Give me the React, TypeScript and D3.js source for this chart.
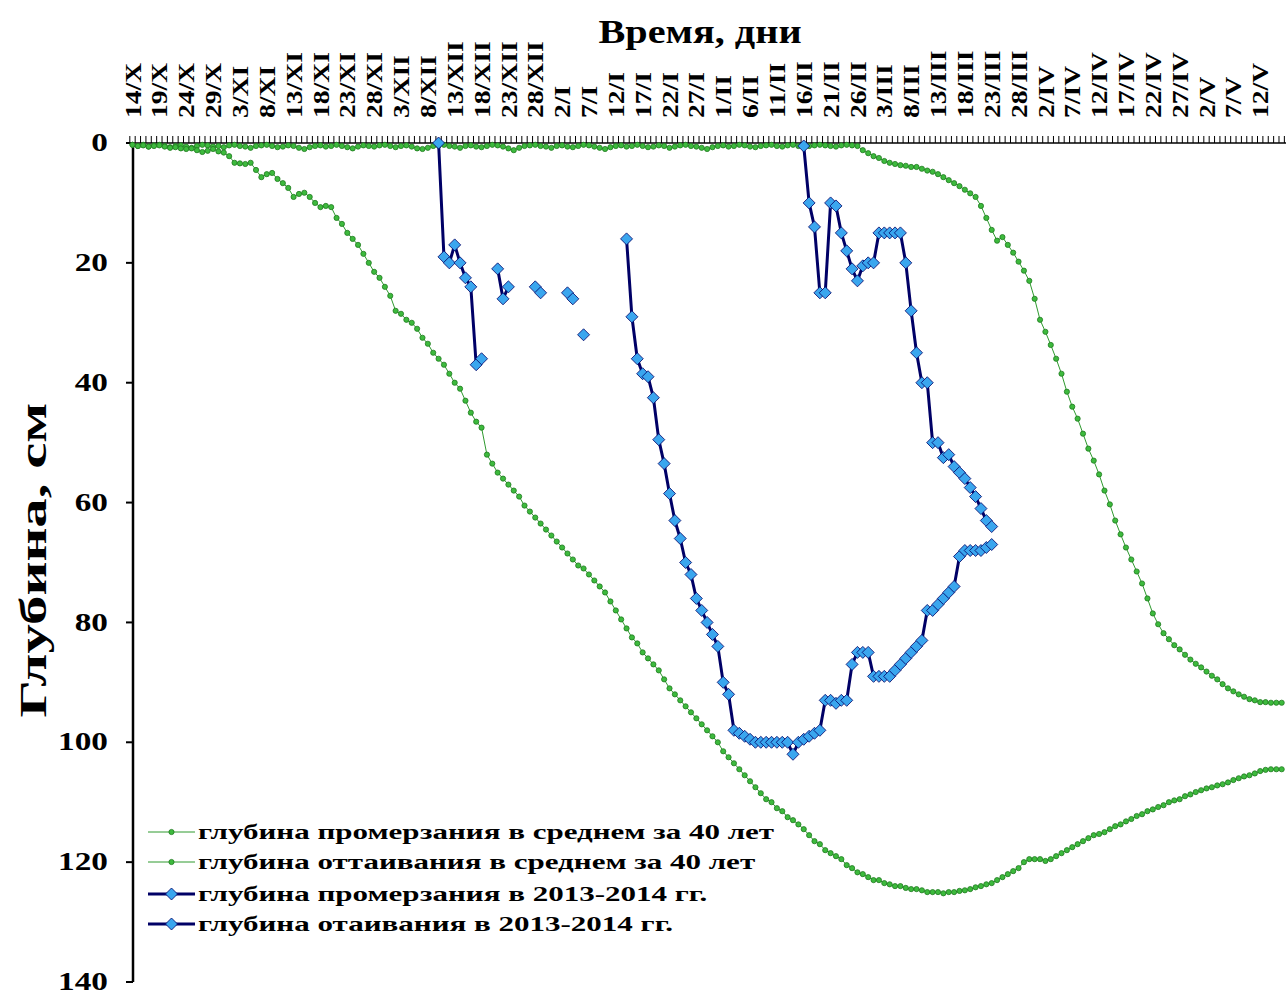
import React from 'react';
import * as d3 from 'd3';

const W = 1286;
const H = 995;

const dateLabels = [
  '14/X', '19/X', '24/X', '29/X', '3/XI', '8/XI', '13/XI', '18/XI', '23/XI', '28/XI',
  '3/XII', '8/XII', '13/XII', '18/XII', '23/XII', '28/XII', '2/I', '7/I', '12/I', '17/I',
  '22/I', '27/I', '1/II', '6/II', '11/II', '16/II', '21/II', '26/II', '3/III', '8/III',
  '13/III', '18/III', '23/III', '28/III', '2/IV', '7/IV', '12/IV', '17/IV', '22/IV', '27/IV',
  '2/V', '7/V', '12/V',
];
const depthTicks = [0, 20, 40, 60, 80, 100, 120, 140];

// day 0 = 14/X, one value per day
const freezeAvg = [
  0.3, 0.5, 0.4, 0.6, 0.5, 0.4, 0.6, 0.8, 0.7, 0.9, 1.0, 0.9, 1.2,
  1.5, 1.3, 1.0, 1.4, 1.6, 2.2, 3.3, 3.4, 3.5, 3.3, 4.5, 5.7,
  5.2, 5.0, 6.0, 6.7, 7.5, 9.0, 8.5, 8.3, 9.0, 10.0, 10.7, 10.5, 10.7,
  12.5, 13.5, 15, 16, 17, 18.5, 20, 21.5, 22.5, 24, 25.5,
  28, 28.5, 29.5, 30, 31, 32.5, 33.5, 35, 36, 37, 38.5, 40,
  41, 43, 45, 46.5, 47.5, 52, 53.5, 55, 56, 57, 58, 59,
  60.5, 61.5, 62.5, 63.5, 64.5, 65.5, 66.5, 67.5, 68.5, 69.5, 70.5,
  71, 72, 73, 74, 75, 76.5, 78, 79.5, 81, 82.5, 83.5,
  85, 86, 87, 88, 89.5, 91, 92, 93, 94, 95, 96, 97, 98, 99, 100,
  101.5, 102.5, 103.5, 104.5, 105.5, 106.5, 107.5, 108.5, 109.5, 110, 111, 111.5, 112.5, 113, 113.7,
  114.5, 115.5, 116.5, 117, 118, 118.5, 119, 119.5, 120.5, 121, 121.7, 122, 122.5, 123, 123,
  123.5, 123.7, 124, 124, 124.3, 124.5, 124.5, 124.7, 125, 125, 125, 125.2, 125, 125, 124.8,
  124.7, 124.5, 124.2, 124, 123.7, 123.5, 123, 122.5, 122, 121.5, 121, 120, 119.5, 119.5, 119.5,
  119.8, 119.5, 119, 118.5, 118, 117.5, 117, 116.5, 116, 115.5, 115.3, 115, 114.5, 114, 113.7,
  113.2, 112.8, 112.3, 112, 111.5, 111.2, 110.8, 110.5, 110, 109.7, 109.5, 109, 108.7, 108.3, 108,
  107.7, 107.5, 107.2, 107, 106.7, 106.3, 106, 105.7, 105.5, 105.2, 104.8, 104.6, 104.5, 104.5, 104.5,
];

const thawAvg = [
  0.3, 0.5, 0.3, 0.6, 0.4, 0.3, 0.5, 0.7, 0.5, 0.4, 0.6, 0.8, 0.5, 0.3, 0.4,
  0.6, 0.5, 0.7, 0.4, 0.3, 0.5, 0.6, 0.8, 0.5, 0.4, 0.3, 0.5, 0.7, 0.6, 0.4,
  0.5, 0.8, 1.0, 0.7, 0.5, 0.4, 0.6, 0.5, 0.3, 0.5, 0.7, 0.9, 0.6, 0.4, 0.5,
  0.6, 0.4, 0.3, 0.5, 0.7, 0.5, 0.4, 0.6, 0.9, 1.0, 0.8, 0.5, 0.4, 0.3, 0.5,
  0.6, 0.8, 0.5, 0.4, 0.6, 0.7, 0.5, 0.3, 0.4, 0.6, 0.9, 1.2, 0.8, 0.5, 0.4,
  0.3, 0.5, 0.6, 0.8, 0.5, 0.4, 0.6, 0.7, 0.5, 0.3, 0.4, 0.6, 0.8, 1.0, 0.7,
  0.5, 0.4, 0.6, 0.5, 0.3, 0.5, 0.7, 0.6, 0.4, 0.5, 0.8, 0.6, 0.4, 0.3, 0.5,
  0.6, 0.8, 1.0, 0.7, 0.5, 0.4, 0.6, 0.5, 0.3, 0.4, 0.6, 0.7, 0.5, 0.4, 0.3,
  0.5, 0.6, 0.4, 0.3, 0.5, 0.7, 0.5, 0.4, 0.3, 0.4, 0.5, 0.6, 0.4, 0.3, 0.4,
  0.5, 1.2, 1.7, 2.2, 2.5, 3.0, 3.3, 3.5, 3.7, 3.8, 4.0, 4.0, 4.3, 4.6, 4.8,
  5.2, 5.7, 6.2, 6.7, 7.2, 7.8, 8.4, 9.0, 10.5, 12.5, 14.5, 16.3, 15.7, 17.0, 18.3,
  19.8, 21.3, 23, 26, 29.5, 31.5, 33.7, 36, 38.5, 41.5, 44, 46, 48.5, 51, 53,
  55.3, 58, 60.3, 63, 65.3, 67.5, 69.5, 71.5, 73.5, 76, 78.5, 80.3, 81.8, 82.8, 83.8,
  84.5, 85.4, 86.2, 86.9, 87.5, 88.2, 88.9, 89.5, 90.3, 91, 91.5, 92, 92.4, 92.8, 93,
  93.3, 93.3, 93.4, 93.4, 93.4,
];

// 2013-2014 freezing depth, starts at day 57 (10/XII); null = no observation
const freeze1314Start = 57;
const freeze1314: (number | null)[] = [
  0, 19, 20, 17, 20, 22.5, 24, 37, 36,
  null, null,
  21, 26, 24,
  null, null, null, null,
  24, 25,
  null, null, null, null,
  25, 26,
  null,
  32,
  null, null, null, null, null, null, null,
  16, 29, 36, 38.5, 39, 42.5, 49.5, 53.5, 58.5, 63,
  66, 70, 72, 76, 78, 80, 82, 84, 90, 92,
  98, 98.5, 99, 99.5, 100, 100, 100, 100, 100, 100, 100,
  102, 100, 99.5, 99, 98.5, 98, 93, 93, 93.5, 93, 93,
  87, 85, 85, 85, 89, 89, 89, 89, 88, 87, 86, 85, 84, 83,
  78, 78, 77, 76, 75, 74, 69, 68, 68, 68, 68, 67.5, 67,
];

// 2013-2014 thawing depth, starts at day 125 (16/II)
const thaw1314Start = 125;
const thaw1314 = [
  0.5, 10, 14, 25, 25, 10, 10.5, 15, 18, 21, 23, 20.5, 20, 20, 15, 15, 15, 15, 15, 20,
  28, 35, 40, 40, 50, 50, 52.5, 52, 54, 55, 56, 57.5, 59, 61, 63, 64,
];

const legendItems = [
  { label: 'глубина промерзания в среднем за 40 лет', kind: 'avg' },
  { label: 'глубина оттаивания в среднем за 40 лет', kind: 'avg' },
  { label: 'глубина промерзания в 2013-2014 гг.', kind: 'obs' },
  { label: 'глубина отаивания в 2013-2014 гг.', kind: 'obs' },
];

const FONT = '"Liberation Serif", "Times New Roman", serif';
const GREEN_LINE = '#2f9a2f';
const GREEN_FILL = '#3dba3d';
const GREEN_STROKE = '#1f7a1f';
const NAVY = '#000066';
const BLUE = '#3aa6ee';

type P = { d: number; v: number | null };

const x = d3.scaleLinear().domain([0, 210]).range([132.5, 132.5 + 210 * 5.37]);
const y = d3.scaleLinear().domain([0, 140]).range([143, 982]);
const dayW = x(1) - x(0);

const toPts = (arr: (number | null)[], start: number): P[] => arr.map((v, i) => ({ d: start + i, v }));

const line = d3
  .line<P>()
  .defined((p) => p.v != null)
  .x((p) => x(p.d))
  .y((p) => y(p.v as number));

const diamond = (s: number) => `M0,${-s}L${s},0L0,${s}L${-s},0Z`;

function T(props: {
  x: number; y: number; size: number; sx?: number; rot?: number; anchor?: string; children: React.ReactNode;
}) {
  const { x: tx, y: ty, size, sx = 1, rot = 0, anchor = 'start', children } = props;
  return (
    <text
      transform={`translate(${tx},${ty}) rotate(${rot}) scale(${sx},1)`}
      fontFamily={FONT}
      fontWeight="bold"
      fontSize={size}
      textAnchor={anchor}
      dominantBaseline="central"
      fill="#000"
    >
      {children}
    </text>
  );
}

function GreenSeries({ pts }: { pts: P[] }) {
  return (
    <g>
      <path d={line(pts) || ''} fill="none" stroke={GREEN_LINE} strokeWidth={1} />
      {pts.filter((p) => p.v != null).map((p) => (
        <circle key={p.d} cx={x(p.d)} cy={y(p.v as number)} r={2.6} fill={GREEN_FILL} stroke={GREEN_STROKE} strokeWidth={0.8} />
      ))}
    </g>
  );
}

function BlueSeries({ pts }: { pts: P[] }) {
  return (
    <g>
      <path d={line(pts) || ''} fill="none" stroke={NAVY} strokeWidth={3} strokeLinejoin="round" />
      {pts.filter((p) => p.v != null).map((p) => (
        <path key={p.d} transform={`translate(${x(p.d)},${y(p.v as number)})`} d={diamond(6)} fill={BLUE} stroke={NAVY} strokeWidth={0.8} />
      ))}
    </g>
  );
}

export default function App() {
  const nDays = freezeAvg.length;
  const dayTicks = d3.range(0, nDays + 1).map((d) => x(d) - dayW / 2);
  return (
    <div style={{ position: 'absolute', left: 0, top: 0, width: W, height: H, background: '#fff' }}>
      <svg width={W} height={H} style={{ display: 'block', overflow: 'hidden' }}>
        <rect width={W} height={H} fill="#fff" />
        {/* title */}
        <T x={700} y={32} size={33} sx={1.22} anchor="middle">Время, дни</T>
        {/* y title */}
        <T x={33} y={560} size={38} sx={1.55} rot={-90} anchor="middle">Глубина, см</T>
        {/* x axis */}
        <line x1={133} x2={W} y1={143} y2={143} stroke="#000" strokeWidth={1.5} />
        {dayTicks.map((tx, i) => (
          <line key={i} x1={tx} x2={tx} y1={136} y2={143} stroke="#000" strokeWidth={1} />
        ))}
        {dateLabels.map((lab, i) => (
          <T key={lab} x={x(i * 5)} y={118} size={23} sx={1.2} rot={-90} anchor="start">{lab}</T>
        ))}
        {/* y axis */}
        <line x1={133} x2={133} y1={143} y2={982} stroke="#000" strokeWidth={2.5} />
        {depthTicks.map((t) => (
          <g key={t}>
            <line x1={126} x2={133} y1={y(t)} y2={y(t)} stroke="#000" strokeWidth={2} />
            <T x={108} y={y(t) - 1} size={26} sx={1.28} anchor="end">{t}</T>
          </g>
        ))}
        {/* series */}
        <GreenSeries pts={toPts(thawAvg, 0)} />
        <GreenSeries pts={toPts(freezeAvg, 0)} />
        <BlueSeries pts={toPts(freeze1314, freeze1314Start)} />
        <BlueSeries pts={toPts(thaw1314, thaw1314Start)} />
        {/* legend */}
        {legendItems.map((it, i) => {
          const ly = [832, 862, 894, 924][i];
          return (
            <g key={it.label}>
              {it.kind === 'avg' ? (
                <g>
                  <line x1={148} x2={195} y1={ly} y2={ly} stroke={GREEN_LINE} strokeWidth={1} />
                  <circle cx={171.5} cy={ly} r={2.6} fill={GREEN_FILL} stroke={GREEN_STROKE} strokeWidth={0.8} />
                </g>
              ) : (
                <g>
                  <line x1={148} x2={195} y1={ly} y2={ly} stroke={NAVY} strokeWidth={3} />
                  <path transform={`translate(171.5,${ly})`} d={diamond(6)} fill={BLUE} stroke={NAVY} strokeWidth={0.8} />
                </g>
              )}
              <T x={198} y={ly} size={22} sx={1.41}>{it.label}</T>
            </g>
          );
        })}
      </svg>
    </div>
  );
}
